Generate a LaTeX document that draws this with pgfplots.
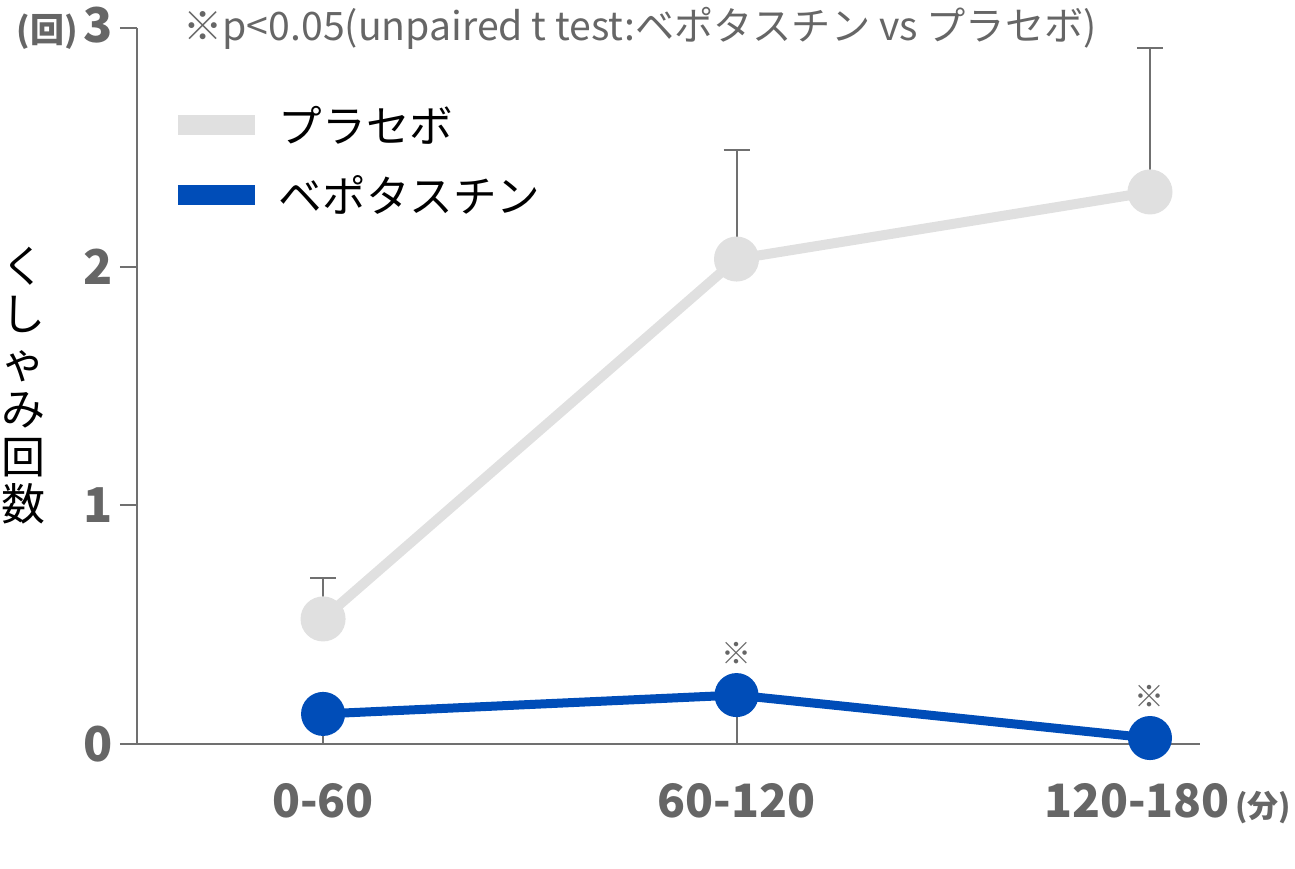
\documentclass[border=0pt]{standalone}
\usepackage{fontspec}
\setmainfont{Noto Sans CJK JP}
\usepackage{pgfplots}
\pgfplotsset{compat=1.18}
\definecolor{pgray}{HTML}{E0E0E0}
\definecolor{bblue}{HTML}{004DB8}
\definecolor{tgray}{HTML}{666666}
\definecolor{agray}{HTML}{707070}

\begin{document}
\begin{tikzpicture}
\useasboundingbox (0,0) rectangle (647.5pt,434pt);
\begin{axis}[
  at={(68.5pt,62pt)}, anchor=south west,
  scale only axis, width=531.5pt, height=358pt,
  xmin=-0.45, xmax=2.121, ymin=0, ymax=3,
  axis x line*=bottom, axis y line*=left,
  axis line style={agray, line width=1pt, -},
  clip=false,
  xtick={0,1,2},
  xticklabels={0-60,60-120,{\hspace{-13pt}120-180\rlap{\fontsize{15.5}{15.5}\selectfont\,(分)}}},
  x tick style={draw=none},
  ytick={0,1,2,3},
  yticklabels={0,1,2,{\llap{\fontsize{17}{17}\selectfont(回)\hspace{3pt}}3}},
  y tick style={agray, line width=1pt},
  tick align=outside, major tick length=8.5pt,
  xticklabel style={font=\bfseries\fontsize{23}{23}\selectfont, text=tgray, yshift=-7.5pt},
  yticklabel style={font=\bfseries\fontsize{24}{24}\selectfont, text=tgray},
  legend style={draw=none, fill=none, at={(0.023,0.903)}, anchor=north west,
    font=\fontsize{21.8}{21.8}\selectfont, row sep=11pt,
    /tikz/every odd column/.append style={column sep=5pt}},
  legend cell align=left,
]
% placebo error bars (upper only)
\addplot[draw=none, mark=none, forget plot,
  error bars/.cd, y dir=plus, y explicit, error mark=|,
  error bar style={draw=agray, line width=1pt},
  error mark options={draw=agray, line width=1pt, mark size=6.5pt}]
  coordinates {(0,0.524) +- (0,0.172) (1,2.032) +- (0,0.457) (2,2.313) +- (0,0.603)};
% bepotastine drop lines
\addplot[draw=none, mark=none, forget plot,
  error bars/.cd, y dir=minus, y explicit, error mark=none,
  error bar style={draw=agray, line width=1pt}]
  coordinates {(0,0.126) +- (0,0.126) (1,0.205) +- (0,0.205) (2,0.025) +- (0,0.025)};
% placebo
\addplot[pgray, line width=5pt, mark=*, mark size=8.75pt,
  mark options={fill=pgray, draw=none}, forget plot]
  coordinates {(0,0.524) (1,2.032) (2,2.313)};
% bepotastine
\addplot[bblue, line width=4.5pt, mark=*, mark size=8.75pt,
  mark options={fill=bblue, draw=none}, forget plot]
  coordinates {(0,0.126) (1,0.205) (2,0.025)};
% significance marks
\addplot[draw=none, mark=none, forget plot, nodes near coords={※},
  nodes near coords style={font=\fontsize{15}{15}\selectfont, text=tgray, anchor=center, yshift=21pt}]
  coordinates {(1,0.205) (2,0.025)};
\addlegendimage{legend image code/.code={\draw[pgray, line width=10pt] (0pt,0pt) -- (38.5pt,0pt);}}
\addlegendentry{プラセボ}
\addlegendimage{legend image code/.code={\draw[bblue, line width=10pt] (0pt,0pt) -- (38.5pt,0pt);}}
\addlegendentry{ベポタスチン}
\end{axis}
\node[anchor=west, text=tgray, font=\fontsize{19.6}{19.6}\selectfont, inner sep=0pt] at (91.5pt,420pt)
  {※p<0.05(unpaired t test:ベポタスチン vs プラセボ)};
\node[font=\fontsize{22}{23.8}\selectfont, align=center, inner sep=0pt] at (12pt,241pt)
  {く\\し\\ゃ\\み\\回\\数};
\end{tikzpicture}
\end{document}
